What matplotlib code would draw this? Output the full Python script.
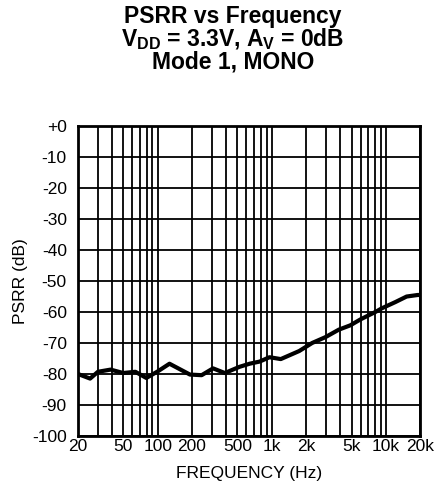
import numpy as np
import matplotlib
matplotlib.use('Agg')
import matplotlib.pyplot as plt
from matplotlib.ticker import FixedLocator, NullFormatter

plt.rcParams['font.family'] = ['Liberation Sans', 'DejaVu Sans']
plt.rcParams['mathtext.fontset'] = 'custom'
plt.rcParams['mathtext.rm'] = 'Liberation Sans:bold'
plt.rcParams['mathtext.default'] = 'rm'

# PSRR curve
freq = [20, 25.6, 30, 38.7, 50, 63.8, 79.6, 100, 127, 192, 243, 306, 388, 522,
        640, 784, 956, 1200, 1740, 2260, 2960, 3870, 4880, 5980, 8080, 9220,
        12100, 15200, 19000, 20000]
psrr = [-80, -81.5, -79.3, -78.6, -79.7, -79.3, -81.3, -79.2, -76.7, -80.2, -80.4,
        -78.2, -79.7, -77.7, -76.7, -76.0, -74.6, -75.2, -72.6, -70.0, -68.1,
        -65.7, -64.3, -62.4, -60.0, -58.8, -56.8, -55.0, -54.5, -54.5]

xticks = [20, 50, 100, 200, 500, 1000, 2000, 5000, 10000, 20000]
xticklabels = ['20', '50', '100', '200', '500', '1k', '2k', '5k', '10k', '20k']
yticks = list(range(-100, 1, 10))
yticklabels = ['+0' if v == 0 else str(v) for v in yticks]

fig = plt.figure(figsize=(4.35, 4.97), dpi=100)
ax = fig.add_axes([0.179, 0.123, 0.787, 0.623])

ax.semilogx(freq, psrr, color='black', linewidth=3.0, solid_joinstyle='round', zorder=3)

ax.set_xlim(20, 20000)
ax.set_ylim(-100, 0)

# grid lines at every 1..9 multiple in each decade
grid_x = [m * 10 ** d for d in range(1, 5) for m in range(1, 10) if 20 <= m * 10 ** d <= 20000]
for gx in grid_x:
    ax.axvline(gx, color='black', linewidth=1.3, zorder=1)
for gy in yticks:
    ax.axhline(gy, color='black', linewidth=1.3, zorder=1)

ax.xaxis.set_major_locator(FixedLocator(xticks))
ax.xaxis.set_minor_locator(FixedLocator([]))
ax.xaxis.set_minor_formatter(NullFormatter())
ax.set_xticklabels(xticklabels)
ax.set_yticks(yticks)
ax.set_yticklabels(yticklabels)
ax.tick_params(axis='x', length=0, labelsize=12.5, pad=2)
ax.tick_params(axis='y', length=0, labelsize=12.5, pad=8)

for s in ax.spines.values():
    s.set_linewidth(2.0)

ax.set_xlabel('FREQUENCY (Hz)', fontsize=12.5, labelpad=9)
ax.set_ylabel('PSRR (dB)', fontsize=12.5, labelpad=3)

fig.text(0.535, 0.99, 'PSRR vs Frequency\n$V_{DD}$ = 3.3V, $A_V$ = 0dB\nMode 1, MONO',
         ha='center', va='top', fontsize=16.5, fontweight='bold', linespacing=0.92)

fig.savefig('out.png', dpi=100)
